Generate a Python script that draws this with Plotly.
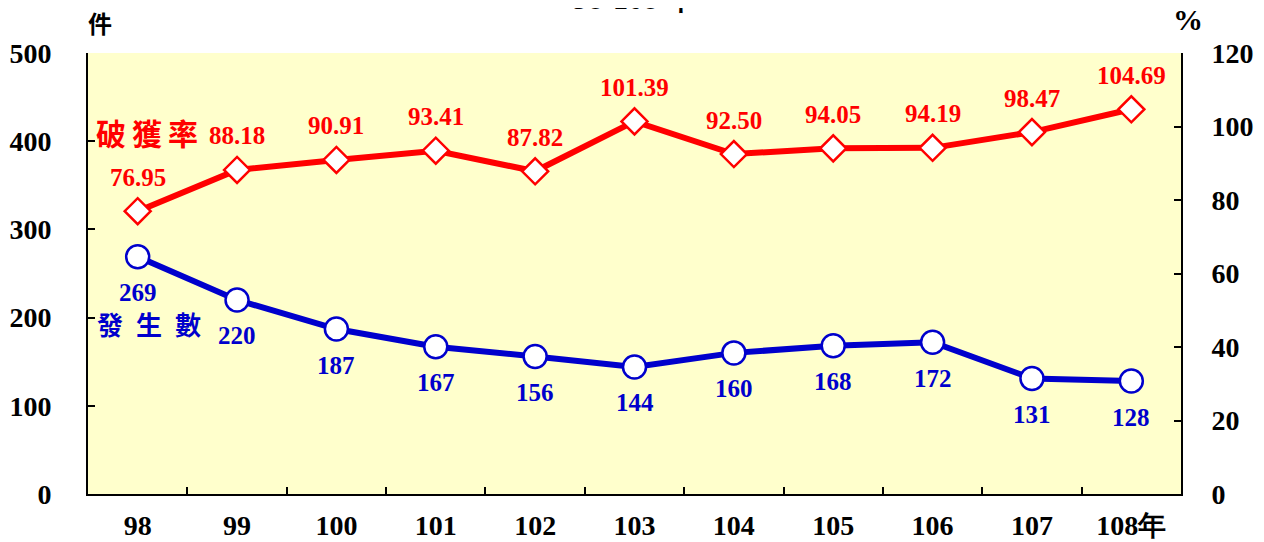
import plotly.graph_objects as go

years = ["98", "99", "100", "101", "102", "103", "104", "105", "106", "107", "108"]
year_labels = ["98", "99", "100", "101", "102", "103", "104", "105", "106", "107", "108年"]
cases = [269, 220, 187, 167, 156, 144, 160, 168, 172, 131, 128]
rate = [76.95, 88.18, 90.91, 93.41, 87.82, 101.39, 92.50, 94.05, 94.19, 98.47, 104.69]
rate_text = ["76.95", "88.18", "90.91", "93.41", "87.82", "101.39", "92.50", "94.05", "94.19", "98.47", "104.69"]

RED = "#FF0000"
BLUE = "#0000CC"
SERIF = "Liberation Serif, Times New Roman, serif"
CJK = "Noto Sans CJK TC, serif"

# plot area in page pixels: x 88..1181, y 53..494 ; page body has an 8px offset
OFF = 8
PL, PT, PW, PH = 88, 53, 1093, 441


def px(xp):
    return (xp - PL) / PW


def py(yp):
    return (PT + PH - yp) / PH


fig = go.Figure()
fig.add_trace(go.Scatter(
    x=years, y=cases, mode="lines+markers", yaxis="y",
    line=dict(color=BLUE, width=6),
    marker=dict(symbol="circle", size=23, color="white", line=dict(color=BLUE, width=2.5)),
    showlegend=False, hoverinfo="skip"))
fig.add_trace(go.Scatter(
    x=years, y=rate, mode="lines+markers", yaxis="y2",
    line=dict(color=RED, width=6),
    marker=dict(symbol="diamond", size=20, color="white", line=dict(color=RED, width=2.5)),
    showlegend=False, hoverinfo="skip"))

ann = []
for i, c in enumerate(cases):
    ann.append(dict(x=i, y=c, xref="x", yref="y", text=str(c), showarrow=False,
                    yshift=-36, font=dict(family=SERIF, size=25, color=BLUE, weight="bold")))
for i, (r, t) in enumerate(zip(rate, rate_text)):
    ann.append(dict(x=i, y=r, xref="x", yref="y2", text=t, showarrow=False,
                    yshift=34, font=dict(family=SERIF, size=25, color=RED, weight="bold")))

ann += [
    dict(x=px(147), y=py(132), xref="paper", yref="paper", xanchor="center", yanchor="middle",
         text="破\u2009獲\u2009率", showarrow=False,
         font=dict(family=CJK, size=30, color=RED, weight="bold")),
    dict(x=px(149), y=py(323), xref="paper", yref="paper", xanchor="center", yanchor="middle",
         text="發\u2002生\u2002數", showarrow=False,
         font=dict(family=CJK, size=26, color=BLUE, weight="bold")),
    dict(x=px(100), y=py(22), xref="paper", yref="paper", xanchor="center", yanchor="middle",
         text="件", showarrow=False,
         font=dict(family=CJK, size=24, color="black", weight="bold")),
    dict(x=px(1188), y=py(20), xref="paper", yref="paper", xanchor="center", yanchor="middle",
         text="%", showarrow=False,
         font=dict(family=SERIF, size=30, color="black", weight="bold")),
    dict(x=0.5, y=py(17), xref="paper", yref="paper", xanchor="center", yanchor="bottom",
         text="98-108 年", showarrow=False,
         font=dict(family=SERIF, size=30, color="black", weight="bold")),
]

fig.update_layout(
    width=1264, height=542,
    margin=dict(l=PL - OFF, r=1264 - (PL - OFF) - PW, t=PT - OFF, b=542 - (PT - OFF) - PH),
    paper_bgcolor="white", plot_bgcolor="#FFFFCC",
    annotations=ann,
    xaxis=dict(type="category", categoryorder="array", categoryarray=years,
               range=[-0.5, 10.5], autorange=False, automargin=False,
               tickmode="array", tickvals=years, ticktext=year_labels, tickangle=0,
               tickson="boundaries", ticks="inside", ticklen=7, tickcolor="black", tickwidth=1.5,
               showline=True, linecolor="black", linewidth=2, showgrid=False,
               tickfont=dict(family=SERIF, size=28, color="black", weight="bold"),
               ticklabelstandoff=5),
    yaxis=dict(range=[0, 500], tickvals=[0, 100, 200, 300, 400, 500], automargin=False,
               ticks="inside", ticklen=7, tickcolor="black", tickwidth=1.5,
               showline=True, linecolor="black", linewidth=2, showgrid=False, zeroline=False,
               tickfont=dict(family=SERIF, size=28, color="black", weight="bold"),
               ticklabelstandoff=29),
    yaxis2=dict(range=[0, 120], tickvals=[0, 20, 40, 60, 80, 100, 120], overlaying="y", side="right",
                automargin=False,
                ticks="inside", ticklen=7, tickcolor="black", tickwidth=1.5,
                showline=True, linecolor="black", linewidth=2, showgrid=False, zeroline=False,
                tickfont=dict(family=SERIF, size=28, color="black", weight="bold"),
                ticklabelstandoff=23),
)

fig.write_html("out.html")
